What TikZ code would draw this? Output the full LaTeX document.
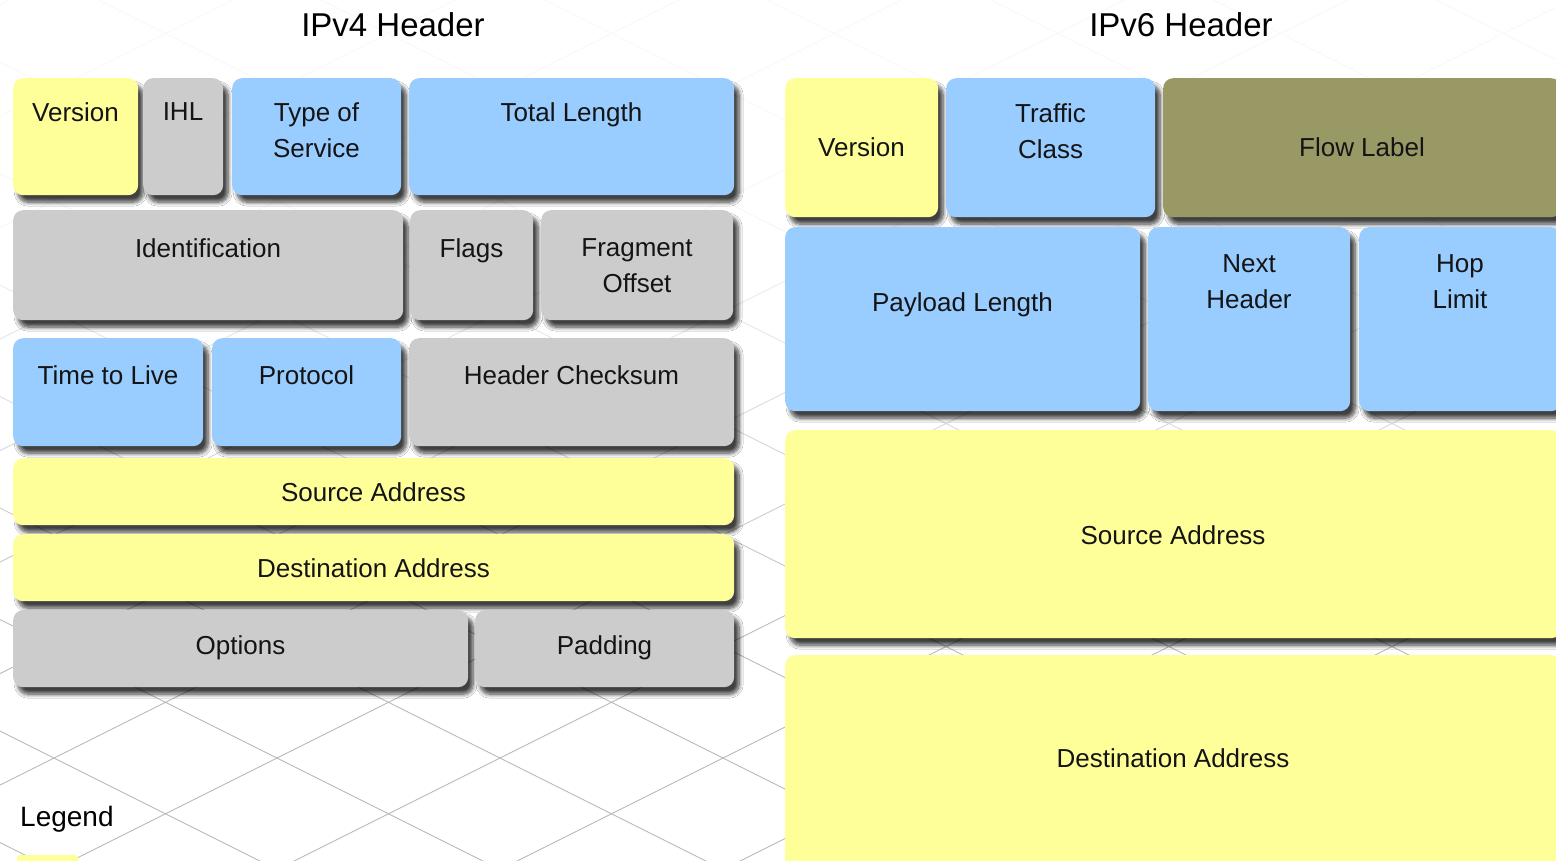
\documentclass[tikz,border=0pt]{standalone}
\usepackage{fontspec}
\setmainfont{Liberation Sans}
\usetikzlibrary{shadows.blur,fadings}

\definecolor{fyellow}{HTML}{FFFF99}
\definecolor{fblue}{HTML}{99CCFF}
\definecolor{fgray}{HTML}{CCCCCC}
\definecolor{folive}{HTML}{999966}
\definecolor{gridgray}{HTML}{8C8C8C}

% light diamond grid behind the fields, stronger towards the bottom
\tikzfading[name=gridfade, top color=transparent!94, bottom color=transparent!40]

% one header field: name, x1, y1, x2, y2, fill, y of first text line, text
\newcommand\hdrfield[8]{%
  \node[field, fill=#6, minimum width={(#4-#2)*1pt}, minimum height={(#5-#3)*1pt},
        anchor=north west] (#1) at (#2,#3) {};
  \node[fieldtext, anchor=north] (#1-text) at ({(#2+#4)/2},{#7-9.5}) {#8};
}

\begin{document}
\begin{tikzpicture}[x=1pt,y=-1pt,
  field/.style={rectangle, rounded corners=10pt, inner sep=0pt, draw=none,
    blur shadow={shadow xshift=5pt, shadow yshift=-7pt, shadow blur radius=4pt,
      shadow blur steps=8, shadow opacity=75}},
  fieldtext/.style={font=\fontsize{26}{36}\selectfont, text=black!92, align=center, inner sep=0pt},
  title/.style={font=\fontsize{33}{38}\selectfont, text=black, inner sep=0pt},
  gridline/.style={draw=gridgray, line width=0.9pt}]

\fill[white] (0,0) rectangle (1556,860);
\useasboundingbox (0,0) rectangle (1556,860);

% background grid
\begin{scope}
  \clip (0,0) rectangle (1556,860);
  \path[gridline, path fading=gridfade, fit fading=false,
        fading transform={shift={(778,430)}, xscale=16, yscale=8.8}]
    \foreach \c in {-11,...,3} { (-10,{-5+508+\c*111.5}) -- (1566,{783+508+\c*111.5}) }
    \foreach \d in {-9,...,5} { (-10,{5+1008+\d*111.5}) -- (1566,{-783+1008+\d*111.5}) };
\end{scope}

% titles
\node[title, anchor=north] (v4title) at (393,12) {IPv4 Header};
\node[title, anchor=north] (v6title) at (1181,12) {IPv6 Header};

% IPv4 header
\hdrfield{v4ver}{13}{78}{138}{195}{fyellow}{112}{Version}
\hdrfield{v4ihl}{143}{78}{223}{195}{fgray}{112}{IHL}
\hdrfield{v4tos}{232}{78}{401}{195}{fblue}{112}{Type of\\Service}
\hdrfield{v4len}{409}{78}{734}{195}{fblue}{112}{Total Length}

\hdrfield{v4id}{13}{210}{403}{320}{fgray}{248}{Identification}
\hdrfield{v4flags}{410}{210}{533}{320}{fgray}{248}{Flags}
\hdrfield{v4frag}{541}{210}{733}{320}{fgray}{248}{Fragment\\Offset}

\hdrfield{v4ttl}{13}{338}{203}{446}{fblue}{375}{Time to Live}
\hdrfield{v4proto}{212}{338}{401}{446}{fblue}{375}{Protocol}
\hdrfield{v4sum}{409}{338}{734}{446}{fgray}{375}{Header Checksum}

\hdrfield{v4src}{13}{458}{734}{525}{fyellow}{492}{Source Address}
\hdrfield{v4dst}{13}{534}{734}{601}{fyellow}{568}{Destination Address}

\hdrfield{v4opt}{13}{610}{468}{687}{fgray}{645}{Options}
\hdrfield{v4pad}{475}{610}{734}{687}{fgray}{645}{Padding}

% IPv6 header
\hdrfield{v6ver}{785}{78}{938}{217}{fyellow}{147}{Version}
\hdrfield{v6tc}{946}{78}{1155}{217}{fblue}{113}{Traffic\\Class}
\hdrfield{v6flow}{1163}{78}{1561}{217}{folive}{147}{Flow Label}

\hdrfield{v6plen}{785}{227}{1140}{411}{fblue}{302}{Payload Length}
\hdrfield{v6next}{1148}{227}{1350}{411}{fblue}{264}{Next\\Header}
\hdrfield{v6hop}{1359}{227}{1561}{411}{fblue}{264}{Hop\\Limit}

\hdrfield{v6src}{785}{430}{1561}{638}{fyellow}{535}{Source Address}
\hdrfield{v6dst}{785}{655}{1561}{880}{fyellow}{758}{Destination Address}

% legend
\node[font=\fontsize{28}{32}\selectfont, text=black, inner sep=0pt, anchor=north west]
  (legend) at (20,806) {Legend};
\fill[fyellow, rounded corners=3pt] (17,855) rectangle (78,870);
\end{tikzpicture}
\end{document}
